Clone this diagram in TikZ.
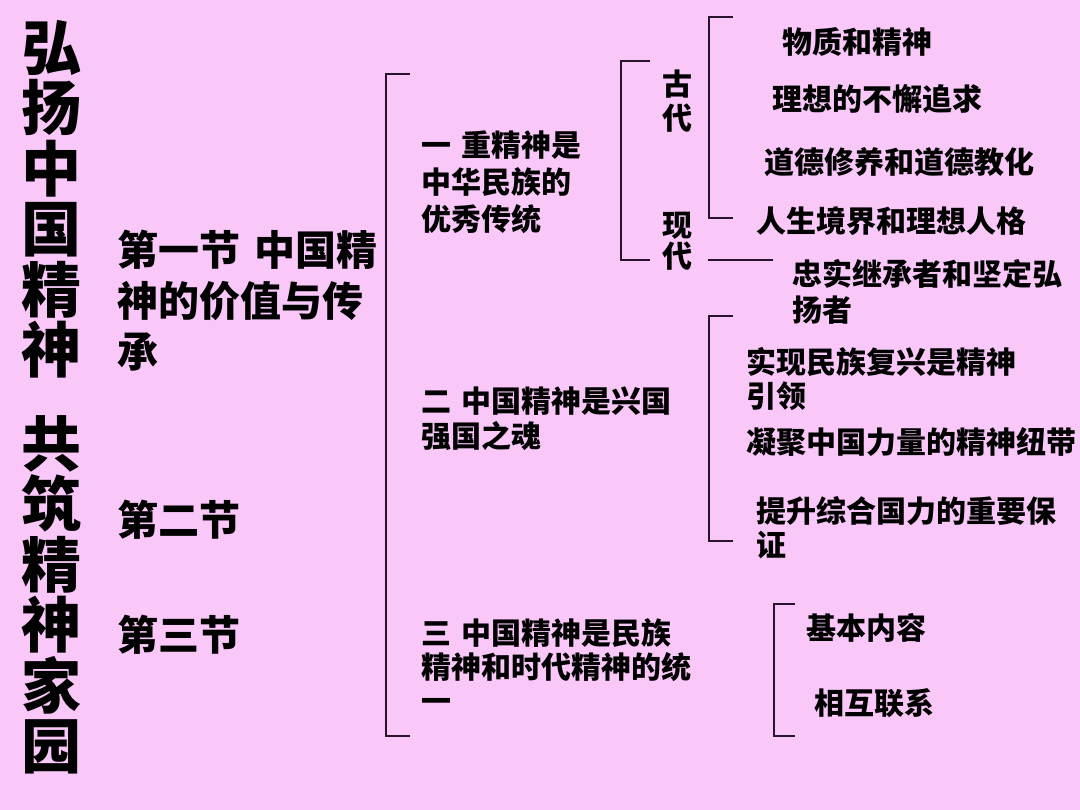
\documentclass[tikz,border=0pt]{standalone}
\usepackage{fontspec}
\setmainfont{Noto Sans CJK SC}
\usetikzlibrary{positioning}
\definecolor{bgpink}{RGB}{249,200,249}
\definecolor{inkline}{RGB}{40,20,45}

\begin{document}
\begin{tikzpicture}[
  x=1pt, y=-1pt,
  headline/.style={font=\fontsize{60}{60.5}\selectfont\bfseries, align=center, inner sep=0pt},
  secbox/.style={font=\fontsize{41}{51}\selectfont\bfseries, align=left, anchor=west, inner sep=0pt},
  topicbox/.style={font=\fontsize{30}{#1}\selectfont\bfseries, align=left, anchor=west, inner sep=0pt},
  topicbox/.default=35,
  erabox/.style={font=\fontsize{30}{#1}\selectfont\bfseries, align=center, inner sep=0pt},
  erabox/.default=34,
  leafbox/.style={font=\fontsize{30}{#1}\selectfont\bfseries, align=left, anchor=west, inner sep=0pt},
  leafbox/.default=35,
  brk/.style={draw=inkline, line width=1.3pt}
]
\fill[bgpink] (0,0) rectangle (1080,810);
\useasboundingbox (0,0) rectangle (1080,810);

% title column
\node[headline] (t1) at (51,199) {弘\\扬\\中\\国\\精\\神};
\node[headline] (t2) at (51,595) {共\\筑\\精\\神\\家\\园};

% sections
\node[secbox] (s1) at (117,301) {第一节\hspace{.35em}中国精\\神的价值与传\\承};
\node[secbox] (s2) at (117,520) {第二节};
\node[secbox] (s3) at (117,635) {第三节};

% topics of section one
\node[topicbox=37] (p1) at (421,182) {一\hspace{.33em}重精神是\\中华民族的\\优秀传统};
\node[topicbox=35] (p2) at (421,419) {二\hspace{.33em}中国精神是兴国\\强国之魂};
\node[topicbox=34] (p3) at (421,666) {三\hspace{.33em}中国精神是民族\\精神和时代精神的统\\一};

% ancient / modern
\node[erabox=34] (gd) at (677,101) {古\\代};
\node[erabox=31] (xd) at (677,241) {现\\代};

\node[leafbox] (a1) at (782,42) {物质和精神};
\node[leafbox] (a2) at (772,99) {理想的不懈追求};
\node[leafbox] (a3) at (764,162) {道德修养和道德教化};
\node[leafbox] (a4) at (756,221) {人生境界和理想人格};
\node[leafbox=36] (a5) at (792,292) {忠实继承者和坚定弘\\扬者};

\node[leafbox=34] (b1) at (746,379) {实现民族复兴是精神\\引领};
\node[leafbox] (b2) at (746,442) {凝聚中国力量的精神纽带};
\node[leafbox=34] (b3) at (756,528) {提升综合国力的重要保\\证};

\node[leafbox] (c1) at (806,628) {基本内容};
\node[leafbox] (c2) at (814,703) {相互联系};

% brackets
\draw[brk] (410,74) -- (386,74) -- (386,736) -- (410,736);
\draw[brk] (650,61) -- (621,61) -- (621,260) -- (650,260);
\draw[brk] (733,17) -- (709,17) -- (709,218) -- (733,218);
\draw[brk] (733,316) -- (709,316) -- (709,541) -- (733,541);
\draw[brk] (795,604) -- (774,604) -- (774,736) -- (795,736);

% modern -> successors
\coordinate (lvl) at (0,260);
\draw[brk, shorten <=16pt, shorten >=19pt] (xd.east |- lvl) -- (a5.west |- lvl);
\end{tikzpicture}
\end{document}
